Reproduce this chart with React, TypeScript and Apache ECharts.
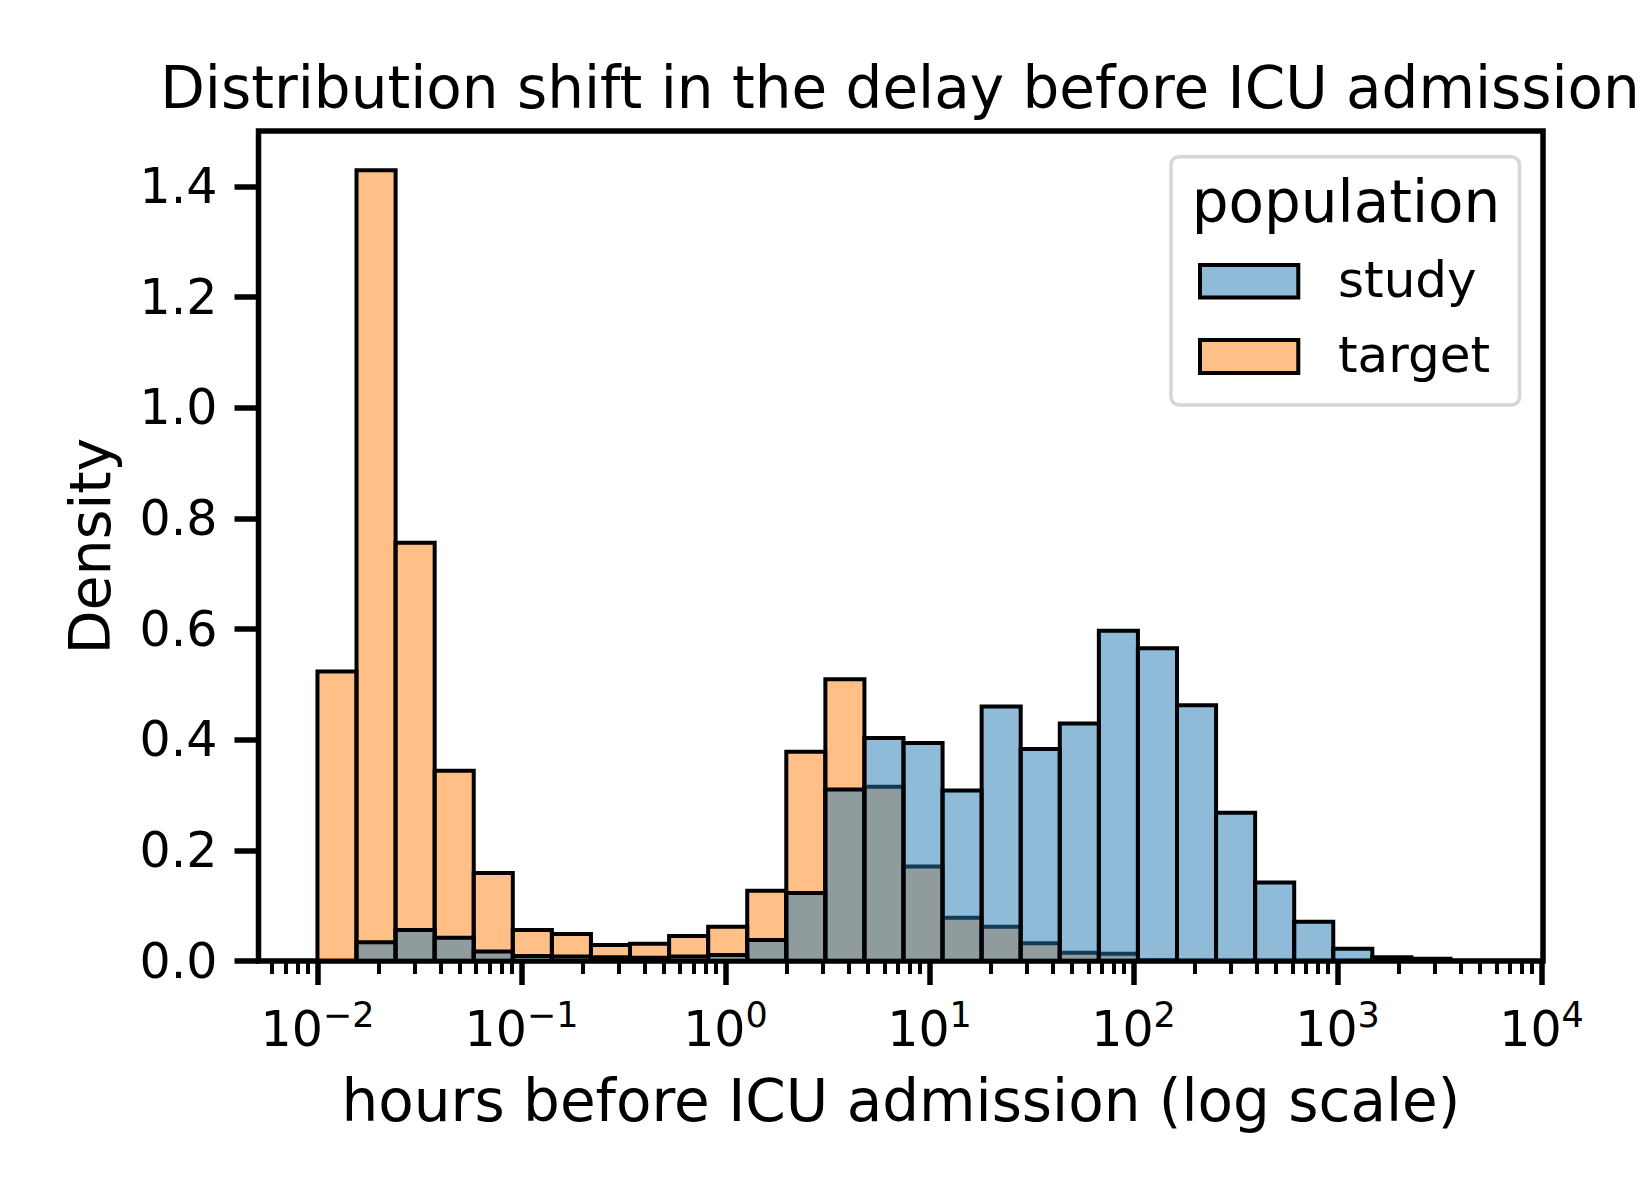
import React, { useEffect, useRef } from "react";
import * as echarts from "echarts";

// Histogram bins on a log10(hours) grid
const BIN_START_LOG = -2; // lower edge of the first bin (10^-2 h)
const BIN_WIDTH_LOG = 0.1915; // bin width in decades

// Density per bin (30 common bins)
const studyDensity = [
  0, 0.034, 0.056, 0.042, 0.017, 0.009, 0.008, 0.007, 0.006, 0.008,
  0.011, 0.038, 0.123, 0.31, 0.403, 0.394, 0.308, 0.46, 0.383, 0.429,
  0.597, 0.565, 0.462, 0.268, 0.142, 0.071, 0.022, 0.007, 0.004, 0,
];
const targetDensity = [
  0.523, 1.429, 0.756, 0.344, 0.159, 0.056, 0.049, 0.029, 0.031, 0.045,
  0.062, 0.127, 0.378, 0.509, 0.315, 0.171, 0.078, 0.062, 0.032, 0.015,
  0.013, 0.002, 0, 0, 0, 0, 0, 0, 0, 0,
];

const seriesNames = ["study", "target"];
const decadeTicks = [-2, -1, 0, 1, 2, 3, 4];
const densityTicks = [0, 0.2, 0.4, 0.6, 0.8, 1.0, 1.2, 1.4];

const X_MIN = -2.289;
const X_MAX = 4.007;
const Y_MIN = 0;
const Y_MAX = 1.5;

const FONT = "DejaVu Sans";
const STUDY_FILL = "rgba(31,119,180,0.5)";
const TARGET_FILL = "rgba(255,127,14,0.5)";
const EDGE_WIDTH = 4;

// log-scale minor ticks: 2..9 x 10^n
const minorTicks: number[] = [];
for (let n = -3; n <= 4; n++) {
  for (let k = 2; k <= 9; k++) {
    const v = Math.log10(k) + n;
    if (v > X_MIN && v < X_MAX) minorTicks.push(v);
  }
}

const toBins = (values: number[]) =>
  values.map((h, i) => [
    BIN_START_LOG + i * BIN_WIDTH_LOG,
    BIN_START_LOG + (i + 1) * BIN_WIDTH_LOG,
    h,
  ]);

const renderBin = (fill: string) => (params: any, api: any) => {
  const x0 = api.value(0);
  const x1 = api.value(1);
  const h = api.value(2);
  const p0 = api.coord([x0, 0]);
  const p1 = api.coord([x1, h]);
  return {
    type: "rect",
    shape: {
      x: p0[0],
      y: p1[1],
      width: p1[0] - p0[0],
      height: p0[1] - p1[1],
    },
    style: { fill, stroke: "#000", lineWidth: EDGE_WIDTH },
  };
};

export default function App() {
  const ref = useRef<HTMLDivElement>(null);

  useEffect(() => {
    if (!ref.current) return;
    const chart = echarts.init(ref.current, undefined, { renderer: "svg" });

    const option: any = {
      animation: false,
      backgroundColor: "#fff",
      textStyle: { fontFamily: FONT, color: "#000" },
      grid: {
        left: 258.5,
        right: 107,
        top: 131,
        bottom: 239,
        show: true,
        borderColor: "#000",
        borderWidth: 5.5,
        backgroundColor: "transparent",
        containLabel: false,
      },
      xAxis: [
        {
          type: "value",
          min: X_MIN,
          max: X_MAX,
          position: "bottom",
          axisLine: { show: false, onZero: false },
          splitLine: { show: false },
          axisTick: {
            show: true,
            customValues: decadeTicks,
            length: 24,
            lineStyle: { color: "#000", width: 5.5 },
          },
          axisLabel: {
            show: true,
            customValues: decadeTicks,
            margin: 36,
            formatter: (v: number) =>
              `{b|10}{s|${v < 0 ? "\u2212" : ""}${Math.abs(v)}}`,
            rich: {
              b: { fontSize: 49, lineHeight: 64, fontFamily: FONT, color: "#000" },
              s: {
                fontSize: 35,
                lineHeight: 35,
                verticalAlign: "top",
                fontFamily: FONT,
                color: "#000",
              },
            },
          },
        },
        {
          type: "value",
          min: X_MIN,
          max: X_MAX,
          position: "bottom",
          axisLine: { show: false, onZero: false },
          splitLine: { show: false },
          axisLabel: { show: false },
          axisTick: {
            show: true,
            customValues: minorTicks,
            length: 13,
            lineStyle: { color: "#000", width: 4 },
          },
        },
      ],
      yAxis: {
        type: "value",
        min: Y_MIN,
        max: Y_MAX,
        position: "left",
        axisLine: { show: false, onZero: false },
        splitLine: { show: false },
        axisTick: {
          show: true,
          customValues: densityTicks,
          length: 24,
          lineStyle: { color: "#000", width: 5.5 },
        },
        axisLabel: {
          show: true,
          customValues: densityTicks,
          margin: 41,
          fontSize: 49,
          fontFamily: FONT,
          color: "#000",
          formatter: (v: number) => v.toFixed(1),
        },
      },
      series: [
        {
          name: seriesNames[1],
          type: "custom",
          xAxisIndex: 0,
          yAxisIndex: 0,
          renderItem: renderBin(TARGET_FILL),
          encode: { x: [0, 1], y: 2 },
          data: toBins(targetDensity),
        },
        {
          name: seriesNames[0],
          type: "custom",
          xAxisIndex: 0,
          yAxisIndex: 0,
          renderItem: renderBin(STUDY_FILL),
          encode: { x: [0, 1], y: 2 },
          data: toBins(studyDensity),
        },
      ],
      graphic: [
        {
          type: "text",
          x: 900,
          y: 88,
          style: {
            text: "Distribution shift in the delay before ICU admission",
            fontSize: 58,
            fontFamily: FONT,
            fill: "#000",
            align: "center",
            verticalAlign: "middle",
          },
        },
        {
          type: "text",
          x: 901,
          y: 1101,
          style: {
            text: "hours before ICU admission (log scale)",
            fontSize: 58,
            fontFamily: FONT,
            fill: "#000",
            align: "center",
            verticalAlign: "middle",
          },
        },
        {
          type: "text",
          x: 90,
          y: 546,
          rotation: Math.PI / 2,
          style: {
            text: "Density",
            fontSize: 57,
            fontFamily: FONT,
            fill: "#000",
            align: "center",
            verticalAlign: "middle",
          },
        },
        {
          type: "group",
          children: [
            {
              type: "rect",
              shape: { x: 1171, y: 156.7, width: 348.5, height: 248.3, r: 8 },
              style: { fill: "rgba(255,255,255,0.8)", stroke: "#d6d6d6", lineWidth: 3.5 },
            },
            {
              type: "text",
              x: 1346,
              y: 202,
              style: {
                text: "population",
                fontSize: 58,
                fontFamily: FONT,
                fill: "#000",
                align: "center",
                verticalAlign: "middle",
              },
            },
            {
              type: "rect",
              shape: { x: 1200, y: 265, width: 98.3, height: 32.6 },
              style: { fill: STUDY_FILL, stroke: "#000", lineWidth: EDGE_WIDTH },
            },
            {
              type: "text",
              x: 1338,
              y: 280,
              style: {
                text: seriesNames[0],
                fontSize: 50,
                fontFamily: FONT,
                fill: "#000",
                align: "left",
                verticalAlign: "middle",
              },
            },
            {
              type: "rect",
              shape: { x: 1200, y: 340, width: 98.3, height: 33 },
              style: { fill: TARGET_FILL, stroke: "#000", lineWidth: EDGE_WIDTH },
            },
            {
              type: "text",
              x: 1338,
              y: 355,
              style: {
                text: seriesNames[1],
                fontSize: 50,
                fontFamily: FONT,
                fill: "#000",
                align: "left",
                verticalAlign: "middle",
              },
            },
          ],
        },
      ],
    };

    chart.setOption(option);
    return () => chart.dispose();
  }, []);

  return (
    <div
      ref={ref}
      style={{ position: "absolute", left: 0, top: 0, width: 1650, height: 1200 }}
    />
  );
}
